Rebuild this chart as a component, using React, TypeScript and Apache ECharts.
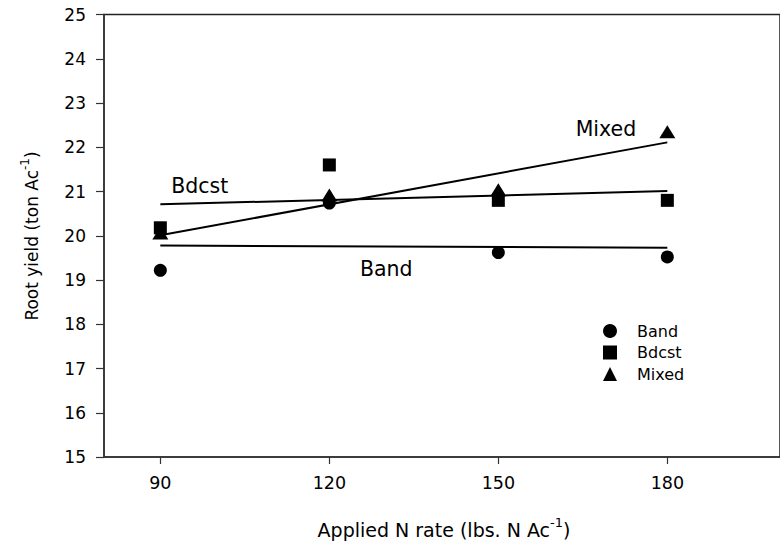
import React, { useEffect, useRef } from "react";
import * as echarts from "echarts";

const nRates = [90, 120, 150, 180];
const bandYield = [19.22, 20.74, 19.62, 19.52];
const bdcstYield = [20.18, 21.6, 20.8, 20.8];
const mixedYield = [20.06, 20.92, 21.04, 22.35];

const fitX = [90, 180];
const bandFit = [19.78, 19.73];
const bdcstFit = [20.71, 21.01];
const mixedFit = [20.01, 22.11];

const xTickValues = [90, 120, 150, 180];

const lineLabelNames = ["Bdcst", "Band", "Mixed"];
const lineLabelX = [97.0, 130.1, 169.1];
const lineLabelY = [21.12, 19.25, 22.41];

const FONT = "DejaVu Sans";

export default function App() {
  const ref = useRef<HTMLDivElement>(null);
  useEffect(() => {
    if (!ref.current) return;
    const chart = echarts.init(ref.current, null, { renderer: "svg" });
    const pts = (ys: number[]) => nRates.map((x, i) => [x, ys[i]]);
    const fit = (ys: number[]) => fitX.map((x, i) => [x, ys[i]]);
    const lineStyle = { color: "#000", width: 2 };
    const markStyle = { color: "#000", opacity: 1 };
    const option: any = {
      animation: false,
      backgroundColor: "#fff",
      textStyle: { fontFamily: FONT },
      grid: {
        left: 104,
        top: 14.5,
        bottom: 91,
        right: -5,
        show: true,
        borderColor: "#222",
        borderWidth: 1.5,
        backgroundColor: "transparent",
      },
      xAxis: {
        type: "value",
        min: 80,
        max: 200,
        splitLine: { show: false },
        axisLine: { lineStyle: { color: "#333", width: 1.5 } },
        axisTick: {
          show: true,
          customValues: xTickValues,
          length: 7,
          lineStyle: { color: "#333", width: 1.2 },
        },
        axisLabel: {
          customValues: xTickValues,
          margin: 17,
          fontSize: 17.5,
          color: "#000",
          fontFamily: FONT,
        },
      },
      yAxis: {
        type: "value",
        min: 15,
        max: 25,
        interval: 1,
        splitLine: { show: false },
        axisLine: { show: true, lineStyle: { color: "#333", width: 1.5 } },
        axisTick: { show: true, length: 8, lineStyle: { color: "#333", width: 1.2 } },
        axisLabel: { margin: 18, fontSize: 17, color: "#000", fontFamily: FONT },
      },
      legend: {
        data: ["Band", "Bdcst", "Mixed"],
        orient: "vertical",
        left: 598,
        top: 318,
        itemWidth: 14,
        itemHeight: 14,
        itemGap: 5.5,
        itemStyle: { opacity: 1 },
        textStyle: {
          fontSize: 16,
          color: "#000",
          fontFamily: FONT,
          padding: [0, 0, 0, 15],
        },
      },
      series: [
        {
          name: "BandFit",
          type: "line",
          data: fit(bandFit),
          symbol: "none",
          lineStyle,
          silent: true,
        },
        {
          name: "BdcstFit",
          type: "line",
          data: fit(bdcstFit),
          symbol: "none",
          lineStyle,
          silent: true,
        },
        {
          name: "MixedFit",
          type: "line",
          data: fit(mixedFit),
          symbol: "none",
          lineStyle,
          silent: true,
        },
        {
          name: "Band",
          type: "scatter",
          data: pts(bandYield),
          symbol: "circle",
          symbolSize: 13,
          itemStyle: markStyle,
        },
        {
          name: "Bdcst",
          type: "scatter",
          data: pts(bdcstYield),
          symbol: "rect",
          symbolSize: 13,
          itemStyle: markStyle,
        },
        {
          name: "Mixed",
          type: "scatter",
          data: pts(mixedYield),
          symbol: "triangle",
          symbolSize: [16, 13],
          itemStyle: markStyle,
        },
        {
          name: "lineLabels",
          type: "scatter",
          silent: true,
          symbolSize: 1,
          itemStyle: { color: "rgba(0,0,0,0)", opacity: 1 },
          data: lineLabelNames.map((n, i) => ({ name: n, value: [lineLabelX[i], lineLabelY[i]] })),
          label: {
            show: true,
            position: "inside",
            formatter: (p: any) => p.name,
            fontSize: 20.5,
            color: "#000",
            opacity: 1,
            fontFamily: FONT,
          },
        },
      ],
      graphic: [
        {
          type: "text",
          x: 444,
          y: 530,
          style: {
            text: "{m|Applied N rate (lbs. N Ac}{s|-1}{m|)}",
            align: "center",
            verticalAlign: "middle",
            fill: "#000",
            rich: {
              m: { fontSize: 19, lineHeight: 28, fontFamily: FONT, fill: "#000" },
              s: { fontSize: 13, lineHeight: 13, verticalAlign: "top", fontFamily: FONT, fill: "#000" },
            },
          },
        },
        {
          type: "text",
          x: 32,
          y: 236,
          rotation: Math.PI / 2,
          style: {
            text: "{m|Root yield (ton Ac}{s|-1}{m|)}",
            align: "center",
            verticalAlign: "middle",
            fill: "#000",
            rich: {
              m: { fontSize: 17, lineHeight: 26, fontFamily: FONT, fill: "#000" },
              s: { fontSize: 12, lineHeight: 12, verticalAlign: "top", fontFamily: FONT, fill: "#000" },
            },
          },
        },
      ],
    };
    chart.setOption(option);
    return () => chart.dispose();
  }, []);
  return (
    <div
      ref={ref}
      style={{ position: "absolute", left: 0, top: 0, width: 780, height: 548 }}
    />
  );
}
